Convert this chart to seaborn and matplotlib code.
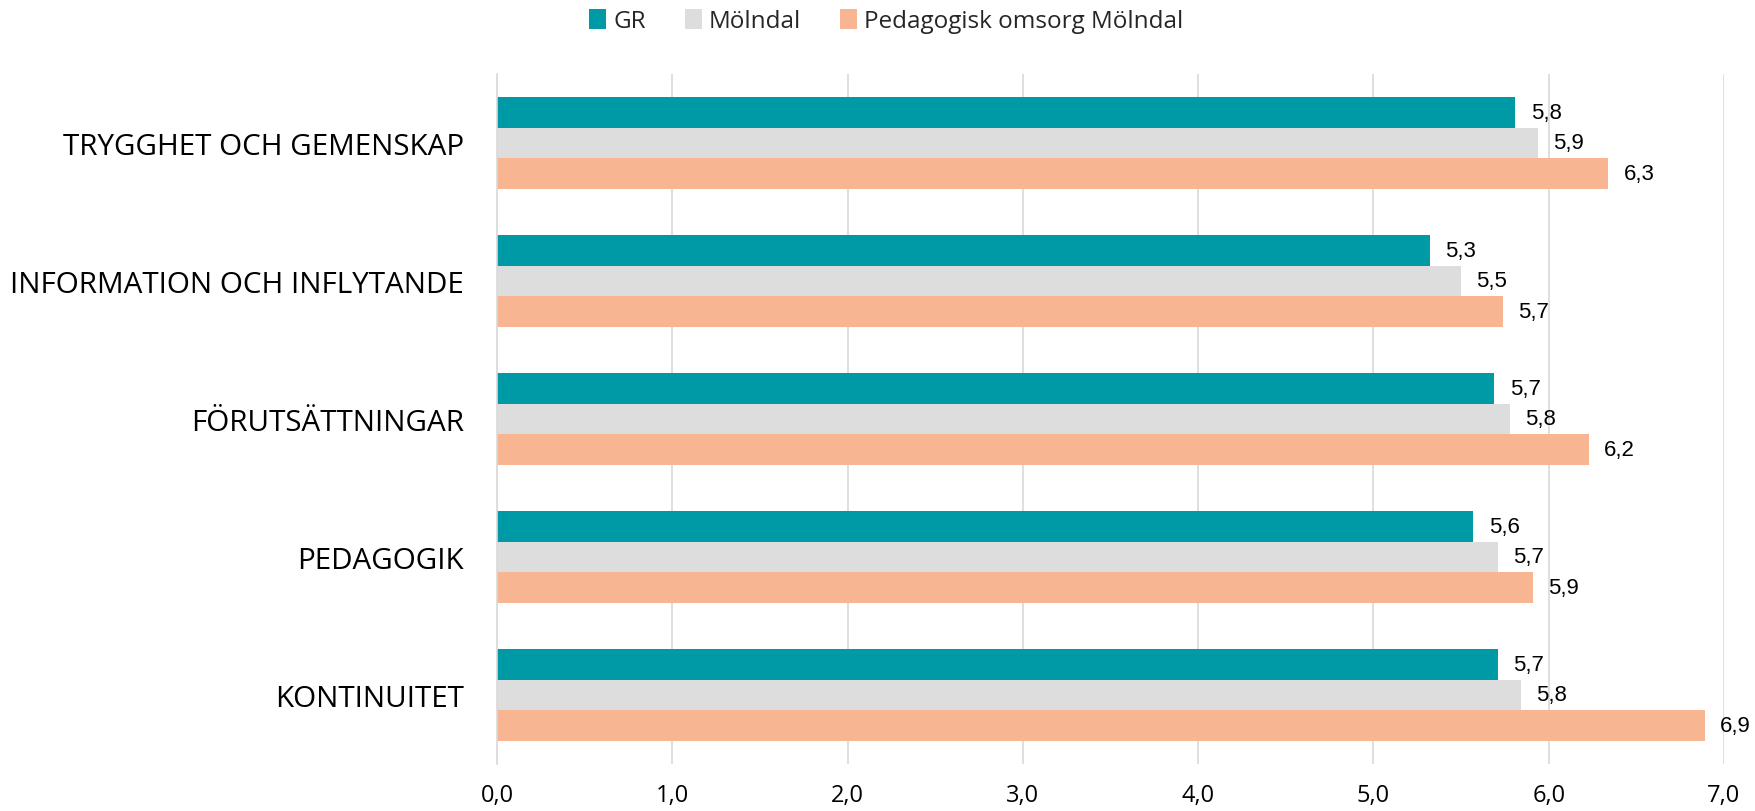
import matplotlib
matplotlib.use("Agg")
import matplotlib.pyplot as plt
import seaborn as sns
import pandas as pd
import numpy as np
from matplotlib.ticker import FixedLocator, FuncFormatter

categories = ["TRYGGHET OCH GEMENSKAP", "INFORMATION OCH INFLYTANDE",
              "FÖRUTSÄTTNINGAR", "PEDAGOGIK", "KONTINUITET"]
series_names = ["GR", "Mölndal", "Pedagogisk omsorg Mölndal"]
gr_values = [5.81, 5.32, 5.69, 5.57, 5.71]
molndal_values = [5.94, 5.50, 5.78, 5.71, 5.84]
ped_values = [6.34, 5.74, 6.23, 5.91, 6.89]
x_ticks = [0, 1, 2, 3, 4, 5, 6, 7]

colors = ["#009aa6", "#dddddd", "#f8b592"]

rows = []
for name, vals in zip(series_names, [gr_values, molndal_values, ped_values]):
    for c, v in zip(categories, vals):
        rows.append({"Kategori": c, "Serie": name, "Värde": v})
df = pd.DataFrame(rows)

sns.set_style("white")
plt.rcParams["font.family"] = ["Open Sans", "DejaVu Sans"]

fig = plt.figure(figsize=(17.55, 8.12), dpi=100)
ax = fig.add_axes([497 / 1755, 1 - 765 / 812, (1724 - 497) / 1755, (765 - 75) / 812])

sns.barplot(data=df, y="Kategori", x="Värde", hue="Serie", order=categories,
            hue_order=series_names, palette=colors, orient="h", width=0.66,
            linewidth=0, ax=ax, legend=True, errorbar=None, saturation=1)

ax.set_xlim(0, 7)
ax.set_ylim(len(categories) - 0.5, -0.5)
ax.xaxis.set_major_locator(FixedLocator(x_ticks))
ax.xaxis.set_major_formatter(FuncFormatter(lambda v, p: f"{v:.1f}".replace(".", ",")))
ax.grid(axis="x", color="#d9d9d9", linewidth=1.2)
ax.set_axisbelow(True)
ax.set_xlabel("")
ax.set_ylabel("")

for side in ["top", "right", "bottom"]:
    ax.spines[side].set_visible(False)
ax.spines["left"].set_color("#d9d9d9")
ax.spines["left"].set_linewidth(1.2)

ax.tick_params(axis="x", length=0, labelsize=17, pad=14, labelcolor="#000000")
ax.tick_params(axis="y", which="major", length=0, labelsize=21.3, pad=24, labelcolor="#000000")
ax.yaxis.set_minor_locator(FixedLocator(np.arange(-0.5, len(categories), 1.0)))
ax.tick_params(axis="y", which="minor", length=7, color="#d9d9d9", width=1.2)

for cont in ax.containers:
    labels = [f"{b.get_width():.1f}".replace(".", ",") for b in cont]
    ax.bar_label(cont, labels=labels, padding=11, fontsize=16,
                 family=["Liberation Sans", "DejaVu Sans"], color="#000000")

handles, labs = ax.get_legend_handles_labels()
ax.legend_.remove()
fig.legend(handles, labs, loc="center", bbox_to_anchor=(0.505, 1 - 22 / 812), ncol=3,
           frameon=False, fontsize=17.5, handlelength=0.7, handleheight=0.9,
           handletextpad=0.3, columnspacing=1.6)

fig.savefig("out.png", dpi=100)
